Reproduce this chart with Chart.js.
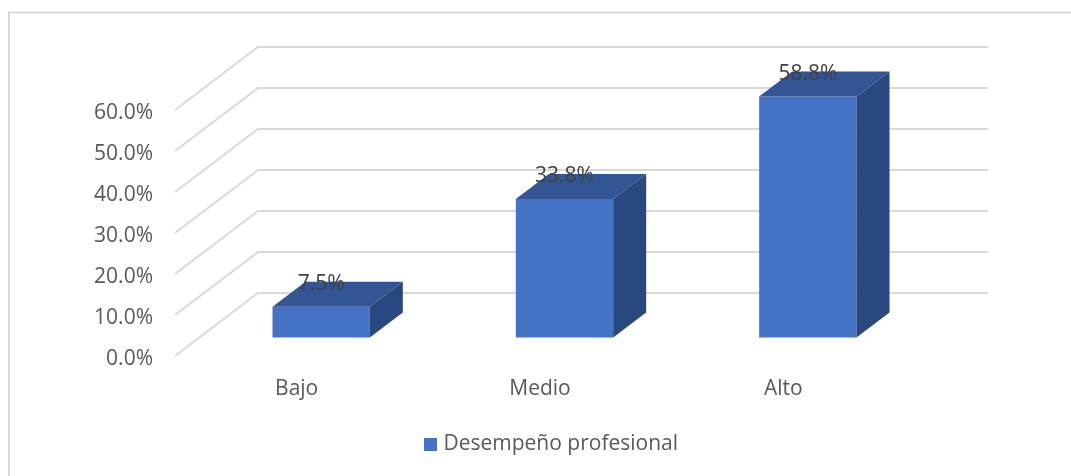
<!DOCTYPE html>
<html><head><meta charset="utf-8">
<style>html,body{margin:0;padding:0;background:#fff}canvas{display:block}</style>
<script src="https://cdn.jsdelivr.net/npm/chart.js@4"></script>
</head><body><canvas id="c" width="1071" height="476"></canvas>
<script>
const categories = ["Bajo", "Medio", "Alto"];
const seriesName = "Desempeño profesional";
const seriesValues = [7.5, 33.8, 58.8];
const tickValues = [0, 10, 20, 30, 40, 50, 60];

const FONT = '"Open Sans", sans-serif';
const FONT_SIZE = 21;
const FRONT = "#4472C4", TOP = "#335593", SIDE = "#294880", GRID = "#d9d9d9";
const BAR_DX = 24.5, BAR_DY = -18.5;     // floor offset of the bars' front face
const DEPTH_X = 33, DEPTH_Y = -25;       // bar depth
const WALL_DX = 83, WALL_DY = -63;       // floor depth to the back wall

const swatch = document.createElement("canvas");
swatch.width = swatch.height = 13;
const sctx = swatch.getContext("2d"); sctx.fillStyle = FRONT; sctx.fillRect(0, 0, 13, 13);

const box3d = {
  id: "box3d",
  afterLayout(chart) { chart.legend.left += 100.5; chart.legend.right += 100.5; },
  beforeDatasetsDraw(chart) {
    const { ctx, chartArea: a, scales: { y } } = chart;
    ctx.save();
    ctx.strokeStyle = GRID;
    ctx.lineWidth = 2;
    ctx.beginPath();
    ctx.moveTo(9, 476); ctx.lineTo(9, 12.5); ctx.lineTo(1071, 12.5);
    ctx.stroke();
    ctx.beginPath();
    tickValues.forEach(v => {
      const py = y.getPixelForValue(v);
      ctx.moveTo(a.left, py);
      ctx.lineTo(a.left + WALL_DX, py + WALL_DY);
      ctx.lineTo(a.right + WALL_DX, py + WALL_DY);
    });
    ctx.stroke();
    ctx.restore();
    ctx.save();
    ctx.translate(BAR_DX, BAR_DY);
  },
  afterDatasetsDraw(chart) {
    const { ctx } = chart;
    const bars = chart.getDatasetMeta(0).data;
    bars.forEach(b => {
      const l = b.x - b.width / 2, r = b.x + b.width / 2, t = b.y, base = b.base;
      ctx.fillStyle = TOP;
      ctx.beginPath();
      ctx.moveTo(l, t); ctx.lineTo(l + DEPTH_X, t + DEPTH_Y);
      ctx.lineTo(r + DEPTH_X, t + DEPTH_Y); ctx.lineTo(r, t); ctx.closePath();
      ctx.fill();
      ctx.fillStyle = SIDE;
      ctx.beginPath();
      ctx.moveTo(r, t); ctx.lineTo(r + DEPTH_X, t + DEPTH_Y);
      ctx.lineTo(r + DEPTH_X, base + DEPTH_Y); ctx.lineTo(r, base); ctx.closePath();
      ctx.fill();
    });
    ctx.fillStyle = "#404040";
    ctx.font = FONT_SIZE + "px " + FONT;
    ctx.textAlign = "center";
    ctx.textBaseline = "middle";
    bars.forEach((b, i) => {
      ctx.fillText(seriesValues[i].toFixed(1) + "%", b.x, b.y + DEPTH_Y + 2.5);
    });
    ctx.restore();
  }
};

new Chart(document.getElementById("c"), {
  type: "bar",
  data: {
    labels: categories,
    datasets: [{
      label: seriesName,
      data: seriesValues,
      backgroundColor: FRONT,
      borderWidth: 0,
      barPercentage: 1,
      categoryPercentage: 0.4,
      clip: false,
      pointStyle: swatch
    }]
  },
  options: {
    responsive: false,
    animation: false,
    layout: { padding: { top: 110, right: 166, bottom: 11, left: 0 } },
    plugins: {
      tooltip: { enabled: false },
      legend: {
        position: "bottom",
        labels: {
          color: "#595959",
          font: { family: FONT, size: FONT_SIZE },
          usePointStyle: true,
          pointStyleWidth: 5,
          boxHeight: 13,
          padding: 10
        }
      }
    },
    scales: {
      x: {
        grid: { display: false, drawTicks: false },
        border: { display: false },
        afterFit(s) { s.height = 68; },
        ticks: { color: "#595959", font: { family: FONT, size: FONT_SIZE }, padding: 20, maxRotation: 0 }
      },
      y: {
        min: 0, max: 60,
        grid: { display: false, drawTicks: false },
        border: { display: false },
        afterFit(s) { s.width = 175; },
        afterBuildTicks(s) { s.ticks = tickValues.map(v => ({ value: v })); },
        ticks: {
          color: "#595959",
          font: { family: FONT, size: FONT_SIZE },
          padding: 22,
          labelOffset: 3,
          callback: v => v.toFixed(1) + "%"
        }
      }
    }
  },
  plugins: [box3d]
});
</script></body></html>
